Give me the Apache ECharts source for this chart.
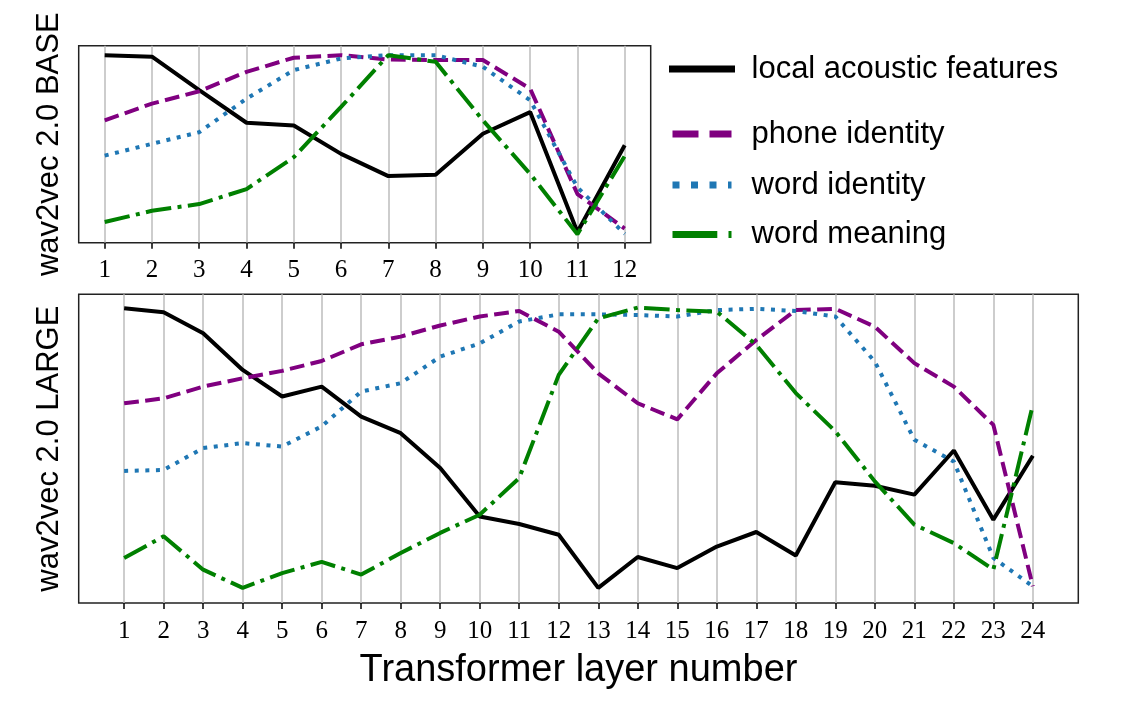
<!DOCTYPE html>
<html>
<head>
<meta charset="utf-8">
<script src="https://cdn.jsdelivr.net/npm/echarts@6/dist/echarts.min.js"></script>
<style>
  html, body { margin: 0; background: #fff; }
  #main { width: 1148px; height: 709px; }
</style>
</head>
<body>
<div id="main"></div>
<script>
// layer numbers
var layersBase = [1, 2, 3, 4, 5, 6, 7, 8, 9, 10, 11, 12];
var layersLarge = [1, 2, 3, 4, 5, 6, 7, 8, 9, 10, 11, 12, 13, 14, 15, 16, 17, 18, 19, 20, 21, 22, 23, 24];

// wav2vec 2.0 BASE (normalised scores)
var baseAcoustic = [0.952, 0.944, 0.774, 0.609, 0.595, 0.451, 0.338, 0.345, 0.553, 0.663, 0.054, 0.495];
var basePhone    = [0.621, 0.706, 0.769, 0.867, 0.939, 0.952, 0.930, 0.927, 0.927, 0.782, 0.247, 0.072];
var baseWordId   = [0.442, 0.502, 0.561, 0.731, 0.876, 0.935, 0.952, 0.952, 0.893, 0.723, 0.281, 0.045];
var baseMeaning  = [0.105, 0.162, 0.196, 0.272, 0.434, 0.689, 0.952, 0.918, 0.621, 0.349, 0.043, 0.440];

// wav2vec 2.0 LARGE
var largeAcoustic = [0.955, 0.942, 0.874, 0.755, 0.669, 0.701, 0.604, 0.550, 0.437, 0.280, 0.256, 0.221,
                     0.049, 0.149, 0.113, 0.183, 0.230, 0.154, 0.391, 0.380, 0.351, 0.494, 0.270, 0.477];
var largePhone    = [0.647, 0.663, 0.701, 0.728, 0.752, 0.784, 0.838, 0.863, 0.899, 0.928, 0.946, 0.879,
                     0.744, 0.647, 0.595, 0.744, 0.852, 0.949, 0.953, 0.895, 0.777, 0.701, 0.577, 0.054];
var largeWordId   = [0.428, 0.431, 0.502, 0.518, 0.507, 0.572, 0.685, 0.712, 0.798, 0.841, 0.912, 0.935,
                     0.935, 0.933, 0.928, 0.949, 0.953, 0.946, 0.928, 0.782, 0.529, 0.458, 0.146, 0.054];
var largeMeaning  = [0.146, 0.216, 0.108, 0.049, 0.097, 0.133, 0.092, 0.162, 0.227, 0.286, 0.405, 0.739,
                     0.922, 0.957, 0.949, 0.944, 0.836, 0.680, 0.556, 0.394, 0.254, 0.194, 0.108, 0.642];

var names = ['local acoustic features', 'phone identity', 'word identity', 'word meaning'];
var colors = ['#000000', '#800080', '#1f77b4', '#008000'];
var dashes = ['solid', [14.8, 6.4], [4, 6.6], [25.6, 6.4, 4, 6.4]];
var legendDashes = ['solid', [26, 11], [7, 11.5], [44.8, 11.2, 7, 11.2]];
var legendCenters = [69, 134, 185, 234.5];

var myChart = echarts.init(document.getElementById('main'));

function pairs(xs, ys) {
  return xs.map(function (x, i) { return [x, ys[i]]; });
}

function xAxisFor(gridIndex, ticks, margin, name) {
  var n = ticks.length;
  return {
    type: 'value',
    gridIndex: gridIndex,
    min: 1 - 0.05 * (n - 1),
    max: n + 0.05 * (n - 1),
    axisLine: { show: false },
    axisTick: {
      show: true, inside: false, length: 6, customValues: ticks,
      lineStyle: { color: '#000', width: 1.5 }
    },
    axisLabel: {
      customValues: ticks, margin: margin,
      fontFamily: 'Liberation Serif', fontSize: 25, color: '#000'
    },
    splitLine: { show: true, lineStyle: { color: '#bdbdbd', width: 1.5 } },
    name: name,
    nameLocation: 'middle',
    nameGap: 49,
    nameTextStyle: { fontFamily: 'Liberation Sans', fontSize: 38, color: '#000' }
  };
}

function yAxisFor(gridIndex, name) {
  return {
    type: 'value',
    gridIndex: gridIndex,
    min: 0,
    max: 1,
    axisLine: { show: false },
    axisTick: { show: false },
    axisLabel: { show: false },
    splitLine: { show: false },
    name: name,
    nameLocation: 'middle',
    nameRotate: 90,
    nameGap: 14,
    nameTextStyle: { fontFamily: 'Liberation Sans', fontSize: 31, color: '#000' }
  };
}

function lineSeries(i, ax, xs, ys) {
  return {
    name: names[i],
    type: 'line',
    xAxisIndex: ax,
    yAxisIndex: ax,
    data: pairs(xs, ys),
    symbol: 'none',
    silent: true,
    lineStyle: { color: colors[i], width: 4, type: dashes[i] }
  };
}

var option = {
  backgroundColor: '#fff',
  animation: false,
  grid: [
    { left: 78.7, top: 45.7, width: 572, height: 197, show: true, borderColor: '#222', borderWidth: 1.5,
      backgroundColor: 'transparent', outerBoundsMode: 'none' },
    { left: 78.7, top: 294.3, width: 999.6, height: 308.7, show: true, borderColor: '#222', borderWidth: 1.5,
      backgroundColor: 'transparent', outerBoundsMode: 'none' }
  ],
  xAxis: [
    xAxisFor(0, layersBase, 15, ''),
    xAxisFor(1, layersLarge, 16, 'Transformer layer number')
  ],
  yAxis: [
    yAxisFor(0, 'wav2vec 2.0 BASE'),
    yAxisFor(1, 'wav2vec 2.0 LARGE')
  ],
  legend: names.map(function (nm, i) {
    return {
      data: [nm],
      left: 669,
      top: legendCenters[i] - 15.5,
      padding: 0,
      itemWidth: 59,
      itemHeight: 8,
      selectedMode: false,
      textStyle: { fontFamily: 'Liberation Sans', fontSize: 31, color: '#000', padding: [0, 0, 0, 15] },
      lineStyle: { width: 7, type: legendDashes[i], cap: i === 0 ? 'square' : 'butt' },
      itemStyle: { opacity: 0 }
    };
  }),
  series: [
    lineSeries(0, 0, layersBase, baseAcoustic),
    lineSeries(1, 0, layersBase, basePhone),
    lineSeries(2, 0, layersBase, baseWordId),
    lineSeries(3, 0, layersBase, baseMeaning),
    lineSeries(0, 1, layersLarge, largeAcoustic),
    lineSeries(1, 1, layersLarge, largePhone),
    lineSeries(2, 1, layersLarge, largeWordId),
    lineSeries(3, 1, layersLarge, largeMeaning)
  ]
};

myChart.setOption(option);
window.onresize = function () {
  myChart.resize();
};
</script>
</body>
</html>
